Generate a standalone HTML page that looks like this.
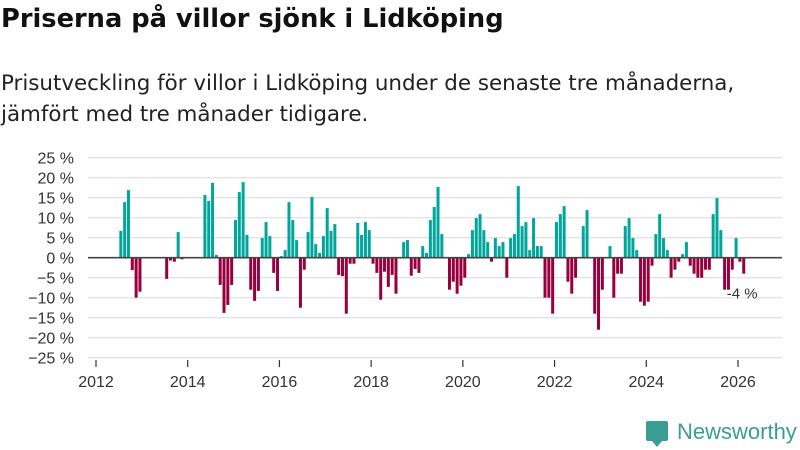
<!DOCTYPE html>
<html><head><meta charset="utf-8"><style>
body{margin:0;background:#fff;font-family:"Liberation Sans","DejaVu Sans",sans-serif;}
#wrap{position:relative;width:800px;height:450px;overflow:hidden;}
h1{position:absolute;left:1px;top:4px;margin:0;font-family:"DejaVu Sans",sans-serif;font-size:25.7px;font-weight:bold;color:#111;}
.sub{position:absolute;left:1px;top:68px;margin:0;font-family:"DejaVu Sans",sans-serif;font-size:21.4px;line-height:31px;color:#222;}
svg text{font-family:"Liberation Sans","DejaVu Sans",sans-serif;}
</style></head><body>
<div id="wrap">
<h1>Priserna på villor sjönk i Lidköping</h1>
<p class="sub">Prisutveckling för villor i Lidköping under de senaste tre månaderna,<br>jämfört med tre månader tidigare.</p>
<svg id="chart" width="800" height="450" style="position:absolute;left:0;top:0"></svg>
<div style="position:absolute;left:646px;top:421px;width:22px;height:20px;background:#3a9d92;border-radius:2px"></div>
<div style="position:absolute;left:652px;top:441px;width:0;height:0;border-left:5px solid transparent;border-right:5px solid transparent;border-top:6px solid #3a9d92"></div>
<div style="position:absolute;left:677px;top:419px;font-size:22px;color:#3a9d92;">Newsworthy</div>
</div>
<script>
const startYear = 2012, startMonth = 6;
const values = [6.7,13.9,16.9,-3.1,-10,-8.5,0,0,0,0,0,0,-5.3,-0.7,-1,6.4,-0.4,0,0,0,0,0,15.7,14.2,18.7,0.7,-6.8,-13.8,-11.8,-6.8,9.4,16.4,18.9,5.7,-8,-10.8,-8.3,4.9,8.9,5.4,-3.8,-8.3,0.4,1.9,13.9,9.4,4.4,-12.5,-3,6.4,15.2,3.4,1.2,5.4,12.4,6.7,8.4,-4.3,-4.6,-14,-1.5,-1.5,8.7,5.7,8.9,6.9,-1.5,-3.8,-10.5,-3.5,-7.3,-4.3,-9,0,3.9,4.4,-4.5,-2.8,-3.8,2.9,1.2,9.4,12.7,17.7,5.9,0,-8,-6,-9,-7,-5,0.9,6.9,9.9,10.9,6.9,3.9,-1,4.9,2.9,3.9,-5,4.9,5.9,17.9,7.9,8.9,1.9,9.9,2.9,2.9,-10,-10,-14,8.9,10.9,12.9,-6,-9,-5,0,7.9,11.9,0,-14,-18,-8,0,2.9,-10,-4,-4,7.9,9.9,4.9,1.9,-11,-12,-11,-2,5.9,10.9,4.9,1.9,-5,-3,-1,0.9,3.9,-2,-4,-5,-5,-3,-3,10.9,14.9,6.9,-8,-8,-3,4.9,-1,-4];
const yTicks = [25,20,15,10,5,0,-5,-10,-15,-20,-25];
const xTicks = [2012,2014,2016,2018,2020,2022,2024,2026];
const lastLabel = "-4 %";

const svg = document.getElementById('chart');
const NS = 'http://www.w3.org/2000/svg';
const xScale = y => 96 + (y - 2012) * (738 - 96) / 14;
const yScale = v => 257.7 - v * 4;
function mk(tag, attrs){const e=document.createElementNS(NS,tag);for(const k in attrs)e.setAttribute(k,attrs[k]);svg.appendChild(e);return e;}
yTicks.forEach(t=>{
  const g=mk('line',{x1:88,x2:782,y1:yScale(t),y2:yScale(t),stroke:'#e3e3e3','stroke-width':1.3});
  
  
  const l=mk('text',{x:74,y:yScale(t)+6,'text-anchor':'end','font-size':16,fill:'#333'});
  l.textContent=(t<0?'−'+(-t):t)+' %';
  
  
});
xTicks.forEach(t=>{
  const tk=mk('line',{x1:xScale(t),x2:xScale(t),y1:360,y2:367,stroke:'#333','stroke-width':1.2});
  
  
  const l=mk('text',{x:xScale(t),y:387,'text-anchor':'middle','font-size':16,fill:'#333'});
  l.textContent=t;
  
  
});
values.forEach((v,i)=>{
  const yr=startYear+(startMonth+i+0.5)/12;
  const cx=xScale(yr);
  const y0=yScale(0), y1=yScale(v);
  const b=mk('rect',{x:cx-1.5,y:Math.min(y0,y1),width:3,height:Math.abs(y1-y0),fill:v>=0?'#00a69b':'#97003c'});
  
  
});
const z=mk('line',{x1:88,x2:782,y1:yScale(0),y2:yScale(0),stroke:'#444','stroke-width':1.6});


const li=values.length-1;
const lx=xScale(startYear+(startMonth+li+0.5)/12);
const lb=mk('text',{x:lx-17,y:yScale(values[li])+25,'font-size':15,fill:'#333',stroke:'#fff','stroke-width':3,'paint-order':'stroke'});
lb.textContent=lastLabel;


</script>
</body></html>
